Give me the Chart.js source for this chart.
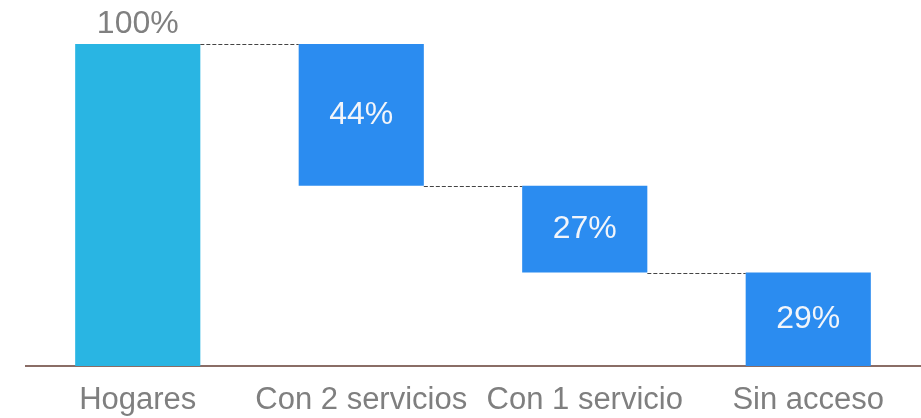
<!DOCTYPE html>
<html>
<head>
<meta charset="utf-8">
<script src="https://cdn.jsdelivr.net/npm/chart.js@4.4.1/dist/chart.umd.min.js"></script>
<style>
  html, body { margin: 0; padding: 0; background: #ffffff; }
  #wrap { width: 921px; height: 418px; position: relative; }
</style>
</head>
<body>
<div id="wrap"><canvas id="chart"></canvas></div>
<script>
// Waterfall: total households, then how they split by number of services
const categories = ['Hogares', 'Con 2 servicios', 'Con 1 servicio', 'Sin acceso'];
const values = [100, 44, 27, 29];
const barColors = ['#29B5E3', '#2B8CF0', '#2B8CF0', '#2B8CF0'];
const valueLabelColors = ['#808080', '#F2F5FA', '#F2F5FA', '#F2F5FA'];

// First bar is the total; every following bar steps down from the previous bottom
const ranges = [];
let level = 0;
values.forEach((v, i) => {
  if (i === 0) { ranges.push([0, v]); level = v; }
  else { ranges.push([level - v, level]); level -= v; }
});

const FONT = '"Liberation Sans", Arial, sans-serif';

const waterfallDecor = {
  id: 'waterfallDecor',
  afterDatasetsDraw(chart) {
    const { ctx } = chart;
    const meta = chart.getDatasetMeta(0);
    const y = chart.scales.y;
    ctx.save();
    // dashed connectors between consecutive bars
    ctx.strokeStyle = '#444444';
    ctx.lineWidth = 1;
    ctx.setLineDash([4, 2]);
    for (let i = 0; i < meta.data.length - 1; i++) {
      const a = meta.data[i], b = meta.data[i + 1];
      const yy = Math.round(y.getPixelForValue(ranges[i + 1][1])) + 0.5;
      ctx.beginPath();
      ctx.moveTo(a.x + a.width / 2, yy);
      ctx.lineTo(b.x - b.width / 2, yy);
      ctx.stroke();
    }
    ctx.setLineDash([]);
    // value labels
    ctx.font = '32px ' + FONT;
    ctx.textAlign = 'center';
    ctx.textBaseline = 'middle';
    meta.data.forEach((bar, i) => {
      ctx.fillStyle = valueLabelColors[i];
      const text = values[i] + '%';
      if (i === 0) {
        ctx.fillText(text, bar.x, y.getPixelForValue(ranges[i][1]) - 20);
      } else {
        const mid = (y.getPixelForValue(ranges[i][0]) + y.getPixelForValue(ranges[i][1])) / 2;
        ctx.fillText(text, bar.x, mid);
      }
    });
    ctx.restore();
  }
};

new Chart(document.getElementById('chart'), {
  type: 'bar',
  data: {
    labels: categories,
    datasets: [{
      data: ranges,
      backgroundColor: barColors,
      borderWidth: 0,
      barPercentage: 0.56,
      categoryPercentage: 1.0
    }]
  },
  options: {
    responsive: true,
    maintainAspectRatio: false,
    animation: false,
    layout: { padding: { top: 44, left: 26, right: 1, bottom: 0 } },
    plugins: {
      legend: { display: false },
      tooltip: { enabled: false }
    },
    scales: {
      x: {
        grid: { display: false, drawTicks: false },
        border: { display: true, color: '#8A6D66', width: 2 },
        afterFit(scale) { scale.height = 52; },
        ticks: {
          color: '#7F7F7F',
          font: { family: FONT, size: 31 },
          padding: 16,
          maxRotation: 0,
          autoSkip: false
        }
      },
      y: {
        display: false,
        min: 0,
        max: 100
      }
    }
  },
  plugins: [waterfallDecor]
});
</script>
</body>
</html>
